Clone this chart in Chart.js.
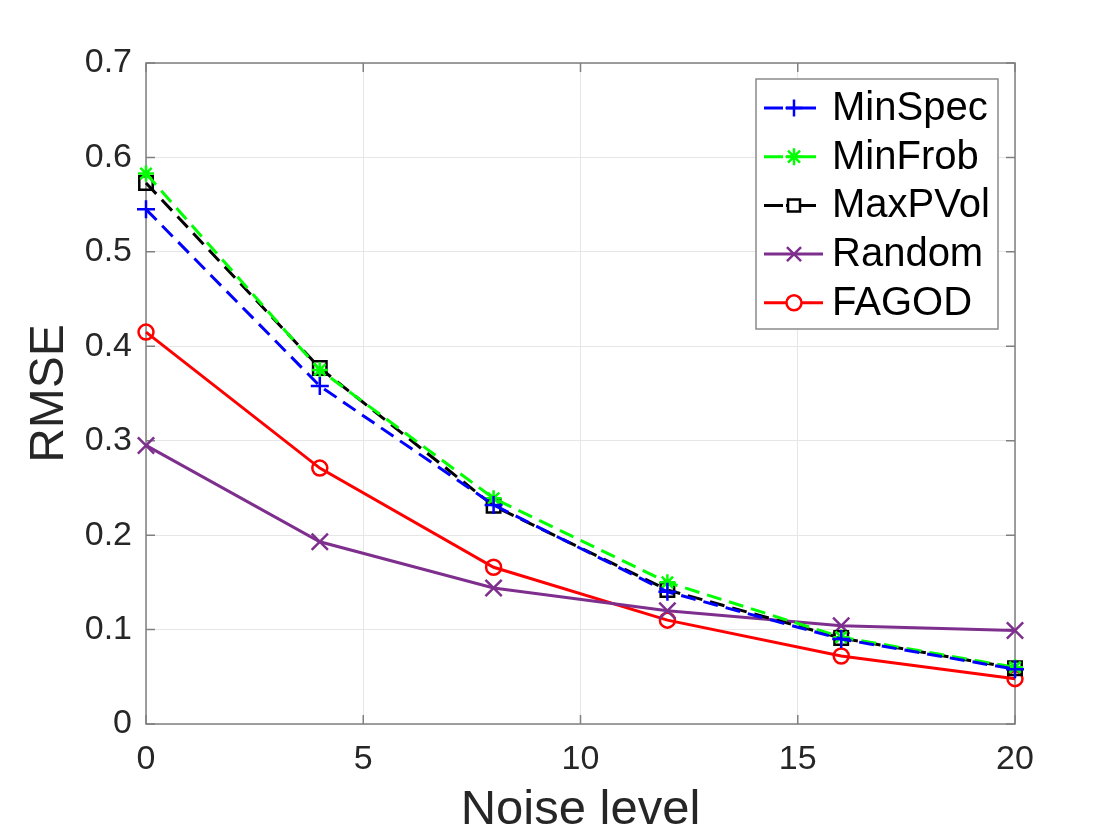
<!DOCTYPE html>
<html>
<head>
<meta charset="utf-8">
<script src="https://cdn.jsdelivr.net/npm/chart.js@4"></script>
<style>
  html, body { margin: 0; padding: 0; background: #fff; }
  #wrap { width: 1120px; height: 840px; }
</style>
</head>
<body>
<div id="wrap"><canvas id="rmseChart" width="1120" height="840"></canvas></div>
<script>
// values
const noiseLevels = [0, 4, 8, 12, 16, 20];
const seriesNames = ['MinSpec', 'MinFrob', 'MaxPVol', 'Random', 'FAGOD'];
const minSpec = [0.545, 0.358, 0.232, 0.140, 0.090, 0.058];
const minFrob = [0.583, 0.375, 0.239, 0.150, 0.092, 0.060];
const maxPVol = [0.573, 0.377, 0.231, 0.142, 0.091, 0.059];
const randomSel = [0.295, 0.193, 0.144, 0.120, 0.104, 0.099];
const fagod = [0.415, 0.271, 0.166, 0.110, 0.072, 0.048];
const xTicks = [0, 5, 10, 15, 20];
const yTicks = [0, 0.1, 0.2, 0.3, 0.4, 0.5, 0.6, 0.7];

const FONT = "'Liberation Sans', Arial, Helvetica, sans-serif";
const TXT = '#262626';
const AXIS = '#808080';

function toPoints(vals) {
    return vals.map((v, i) => ({x: noiseLevels[i], y: v}));
}

function serie(label, vals, color, marker, radius, dash) {
    return {
        label: label,
        data: toPoints(vals),
        borderColor: color,
        backgroundColor: color,
        borderWidth: 3,
        borderDash: dash,
        pointStyle: marker,
        pointRadius: radius,
        pointHoverRadius: radius,
        pointBorderColor: color,
        pointBackgroundColor: 'rgba(0,0,0,0)',
        pointBorderWidth: 2.5,
        tension: 0,
        fill: false,
        clip: false
    };
}

const datasets = [
    serie(seriesNames[0], minSpec, '#0000ff', 'cross', 9, [15, 8]),
    serie(seriesNames[1], minFrob, '#00ff00', 'star', 8, [15, 8]),
    serie(seriesNames[2], maxPVol, '#000000', 'rect', 9.5, [15, 8]),
    serie(seriesNames[3], randomSel, '#7e2f8e', 'crossRot', 11.5, []),
    serie(seriesNames[4], fagod, '#ff0000', 'circle', 7.5, [])
];

// box around the plot + inward ticks, MATLAB style
const boxPlugin = {
    id: 'box',
    beforeDatasetsDraw(chart) {
        const {ctx, chartArea: a, scales} = chart;
        ctx.save();
        ctx.strokeStyle = AXIS;
        ctx.lineWidth = 1.5;
        ctx.strokeRect(a.left, a.top, a.right - a.left, a.bottom - a.top);
        const tl = 9;
        ctx.beginPath();
        xTicks.forEach(t => {
            const x = scales.x.getPixelForValue(t);
            ctx.moveTo(x, a.bottom); ctx.lineTo(x, a.bottom - tl);
            ctx.moveTo(x, a.top); ctx.lineTo(x, a.top + tl);
        });
        yTicks.forEach(t => {
            const y = scales.y.getPixelForValue(t);
            ctx.moveTo(a.left, y); ctx.lineTo(a.left + tl, y);
            ctx.moveTo(a.right, y); ctx.lineTo(a.right - tl, y);
        });
        ctx.stroke();
        ctx.restore();
    }
};

// legend box in the upper right, line + marker samples
const legendPlugin = {
    id: 'innerLegend',
    afterDraw(chart) {
        const {ctx, chartArea: a} = chart;
        const right = a.right - 17, top = a.top + 16;
        const w = 242, h = 250;
        const left = right - w;
        ctx.save();
        ctx.fillStyle = '#fff';
        ctx.fillRect(left, top, w, h);
        ctx.strokeStyle = '#8a8a8a';
        ctx.lineWidth = 1.5;
        ctx.strokeRect(left, top, w, h);
        ctx.font = '40px ' + FONT;
        ctx.textBaseline = 'middle';
        ctx.textAlign = 'left';
        datasets.forEach((ds, i) => {
            const y = top + 29 + i * 48.7;
            const dashed = ds.borderDash.length > 0;
            const x0 = left + 8, x1 = dashed ? left + 60 : left + 67;
            const cx = left + 38;
            ctx.strokeStyle = ds.borderColor;
            ctx.lineWidth = 3;
            ctx.setLineDash(dashed ? [19, 3, 60, 0] : []);
            ctx.beginPath();
            ctx.moveTo(x0, y); ctx.lineTo(x1, y);
            ctx.stroke();
            ctx.setLineDash([]);
            ctx.fillStyle = '#fff';
            ctx.strokeStyle = ds.borderColor;
            ctx.lineWidth = 2.5;
            ctx.beginPath();
            if (ds.pointStyle === 'rect') {
                const s = 6;
                ctx.rect(cx - s, y - s, 2 * s, 2 * s);
                ctx.fill(); ctx.stroke();
            } else if (ds.pointStyle === 'circle') {
                ctx.arc(cx, y, 7.5, 0, Math.PI * 2);
                ctx.fill(); ctx.stroke();
            } else {
                Chart.helpers.drawPoint(ctx, {
                    pointStyle: ds.pointStyle,
                    radius: ds.pointStyle === 'crossRot' ? 10 : 8.5,
                    borderWidth: 2.5,
                    rotation: 0
                }, cx, y);
            }
            ctx.fillStyle = '#000';
            ctx.fillText(ds.label, left + 76, y + 1);
        });
        ctx.restore();
    }
};

const ctx = document.getElementById('rmseChart').getContext('2d');

new Chart(ctx, {
    type: 'line',
    data: { datasets: datasets },
    options: {
        responsive: false,
        animation: false,
        devicePixelRatio: 1,
        layout: { padding: { left: 0, top: 63, right: 105, bottom: 0 } },
        plugins: {
            legend: { display: false },
            tooltip: { enabled: false }
        },
        scales: {
            x: {
                type: 'linear',
                min: 0,
                max: 20,
                afterFit: s => { s.height = 116; },
                afterBuildTicks: s => { s.ticks = xTicks.map(v => ({value: v})); },
                grid: { color: '#e6e6e6', lineWidth: 1, drawTicks: false },
                border: { display: false },
                ticks: {
                    padding: 15,
                    color: TXT,
                    font: { family: FONT, size: 34 },
                    maxRotation: 0
                },
                title: {
                    display: true,
                    text: 'Noise level',
                    color: TXT,
                    font: { family: FONT, size: 49 },
                    padding: { top: 4, bottom: 0 }
                }
            },
            y: {
                type: 'linear',
                min: 0,
                max: 0.7,
                afterFit: s => { s.width = 146; },
                afterBuildTicks: s => { s.ticks = yTicks.map(v => ({value: v})); },
                grid: { color: '#e6e6e6', lineWidth: 1, drawTicks: false },
                border: { display: false },
                ticks: {
                    padding: 14,
                    color: TXT,
                    font: { family: FONT, size: 34 },
                    callback: v => String(Math.round(v * 10) / 10)
                },
                title: {
                    display: true,
                    text: 'RMSE',
                    color: TXT,
                    font: { family: FONT, size: 48 },
                    padding: { top: 21, bottom: 0 }
                }
            }
        }
    },
    plugins: [boxPlugin, legendPlugin]
});
</script>
</body>
</html>
